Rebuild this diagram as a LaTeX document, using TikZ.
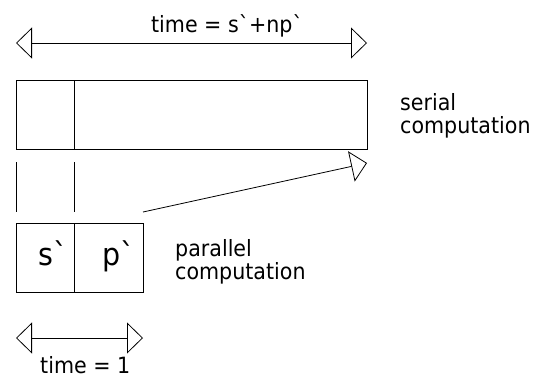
\documentclass[tikz,border=0pt]{standalone}
\usepackage{fontspec}
\newfontfamily\df[FakeStretch=0.92]{DejaVu Sans}
\usetikzlibrary{arrows.meta}
\tikzset{
  ln/.style={line width=0.8pt, draw=black},
  box/.style={ln, rectangle, inner sep=0pt, anchor=north west},
  tri/.style={-{Triangle[open, length=16pt, width=31pt, line width=0.8pt]}},
  dbl/.style={{Triangle[open, length=16pt, width=31pt, line width=0.8pt]}-{Triangle[open, length=16pt, width=31pt, line width=0.8pt]}},
  lbl/.style={font=\df\fontsize{22.4}{23}\selectfont, inner sep=0pt, align=left},
  big/.style={font=\df\fontsize{31}{32}\selectfont, inner sep=0pt, anchor=base west}
}
\begin{document}
\begin{tikzpicture}[x=1pt, y=-1pt]
\useasboundingbox (0,0) rectangle (535,378);
% serial box
\node[box, minimum width=351pt, minimum height=69pt] (ser) at (16,80) {};
\coordinate (sd1) at (74,80);
\coordinate (sd2) at (74,149);
\draw[ln] (sd1) -- (sd2);
% top arrow
\coordinate (ta) at (16,43);
\coordinate (tb) at (367,43);
\draw[ln, dbl] (ta) -- (tb);
\node[lbl, anchor=base] (tlab) at (227,32) {time = s`+np`};
\node[lbl, anchor=base west] (slab) at (400,133) {serial\\computation};
% vertical ticks
\coordinate (v1a) at (16,162);
\coordinate (v1b) at (16,212);
\coordinate (v2a) at (74,162);
\coordinate (v2b) at (74,212);
\draw[ln] (v1a) -- (v1b);
\draw[ln] (v2a) -- (v2b);
% parallel box
\node[box, minimum width=127pt, minimum height=69pt] (par) at (16,223) {};
\coordinate (pd1) at (74,223);
\coordinate (pd2) at (74,292);
\draw[ln] (pd1) -- (pd2);
\node[big] (s) at (38,265) {s`};
\node[big] (p) at (102,265) {p`};
\node[lbl, anchor=base west] (plab) at (175,279) {parallel\\computation};
% diagonal arrow
\coordinate (da) at (143,212);
\coordinate (db) at (367,163);
\draw[ln, tri] (da) -- (db);
% bottom arrow
\coordinate (ba) at (16,338);
\coordinate (bb) at (143,338);
\draw[ln, dbl] (ba) -- (bb);
\node[lbl, anchor=base west] (blab) at (40,373) {time = 1};
\end{tikzpicture}
\end{document}
